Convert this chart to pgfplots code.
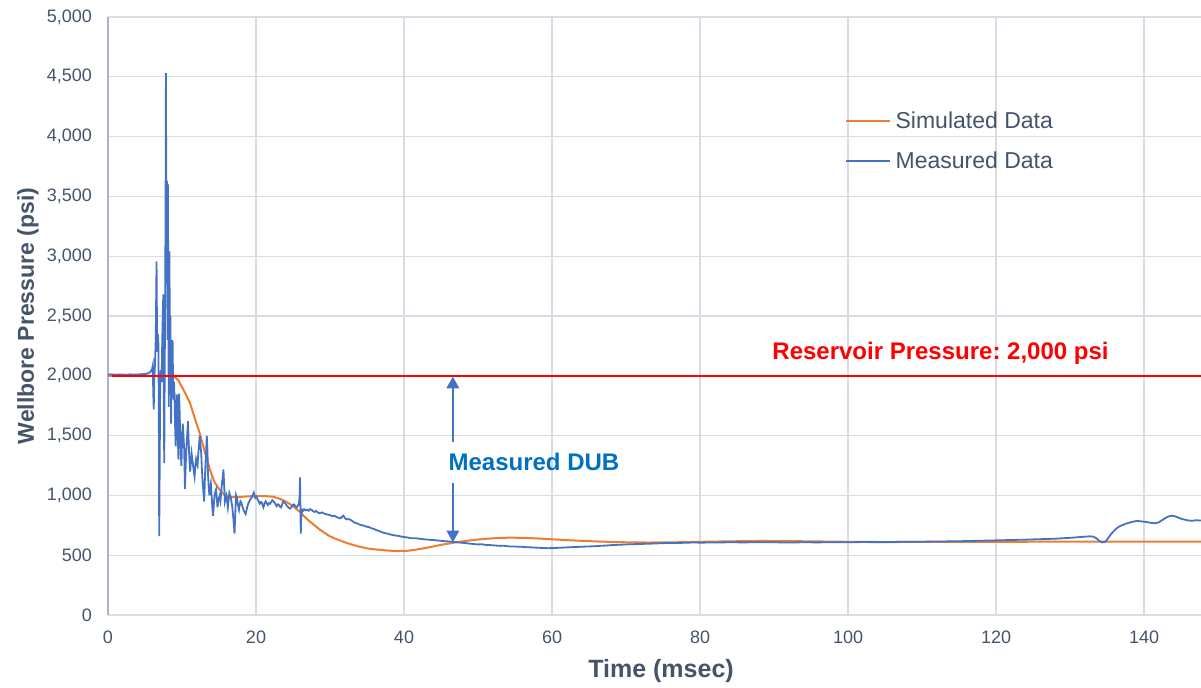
\documentclass[border=0pt]{standalone}
\usepackage{pgfplots}
\pgfplotsset{compat=1.18}
\usepackage{fontspec}
\setmainfont{Liberation Sans}
\usetikzlibrary{arrows.meta}
\definecolor{tickc}{RGB}{68,84,106}
\definecolor{gridc}{RGB}{217,222,230}
\definecolor{yaxc}{RGB}{170,180,200}
\definecolor{simc}{RGB}{237,125,49}
\definecolor{meac}{RGB}{68,114,196}
\definecolor{dubc}{RGB}{0,112,192}
\begin{document}
\frenchspacing
\begin{tikzpicture}
\begin{axis}[
  name=ax,
  scale only axis,
  width=1093bp, height=598bp,
  xmin=0, xmax=147.7, ymin=0, ymax=5000,
  xtick={0,20,...,140},
  ytick={0,500,...,5000},
  axis lines*=left,
  x axis line style={draw=gridc, line width=1.3bp},
  y axis line style={draw=yaxc, line width=1.5bp},
  major tick length=0pt,
  grid=major,
  major grid style={draw=gridc, line width=1.3bp},
  tick label style={font=\fontsize{18bp}{20bp}\selectfont, text=tickc, inner sep=0pt},
  xticklabel shift=16bp,
  yticklabel shift=16bp,
  /pgf/number format/assume math mode=true,
  yticklabel style={/pgf/number format/.cd, 1000 sep={,}},
  xlabel={Time (msec)},
  ylabel={Wellbore Pressure (psi)},
  xlabel style={font=\bfseries\fontsize{25bp}{27bp}\selectfont, text=tickc, at={(axis description cs:0.506,-0.0936)}, anchor=center},
  ylabel style={font=\bfseries\fontsize{23bp}{25bp}\selectfont, text=tickc, at={(axis description cs:-0.0732,0.5)}, anchor=center},
  clip=true,
  legend style={draw=none, fill=none, at={(axis description cs:0.6715,0.7926)}, anchor=west,
    font=\fontsize{23bp}{25bp}\selectfont, text=tickc, row sep=22bp,
    /tikz/every even column/.append style={column sep=0bp},
    nodes={inner sep=0pt}},
  legend cell align=left,
  legend image code/.code={\draw[#1, line width=1.5bp] (0bp,0bp) -- (44bp,0bp);},
  /tikz/every odd column/.append style={column sep=5bp},
]
\addplot[simc, line width=2bp] coordinates {
(0,2000) (8.5,2000) (9.0,1990) (9.5,1965) (9.73,1937) (10.4,1860) (11.1,1770) (11.7,1650)
(12.4,1519) (13.1,1360) (13.8,1212) (14.4,1110) (15.1,1045) (15.8,1003) (16.5,986) (17.5,985)
(18.5,990) (19.5,994) (20.1,995) (21.2,994) (22.3,989) (23.2,972) (24.1,947) (25.0,910)
(25.9,864) (26.5,825) (27.2,785) (27.9,750) (28.6,715) (29.3,685) (30.0,658) (30.7,638)
(31.4,622) (32.2,603) (33.0,588) (34.0,571) (35.0,557) (36.0,549) (37.0,543) (38.0,538)
(39.0,535) (39.5,535) (40.5,537) (41.5,545) (42.5,556) (43.5,567) (44.5,580) (45.5,592)
(46.5,602) (47.5,612) (48.5,620) (49.5,628) (51,637) (52.5,643) (53.9,646) (55,646)
(56,645) (57,643) (58,640) (60,633) (62,626) (64,620) (66,615) (68,611) (70,608) (73,606)
(76,607) (80,612) (84,616) (88,619) (92,618) (96,615) (100,612) (105,610) (110,611)
(120,612) (130,613) (140,613) (147.7,613)
};
\addlegendentry{Simulated Data}
\addplot[meac, line width=1.8bp] table {
0.0 2010
0.5 2012
1.0 2009
1.5 2011
2.0 2010
2.5 2008
3.0 2012
3.5 2010
4.0 2011
4.5 2013
5.0 2015
5.4 2020
5.7 2030
5.95 2055
6.05 2085
6.12 1850
6.18 1720
6.26 1980
6.35 2100
6.45 2300
6.56 2956
6.62 2400
6.68 2200
6.75 2350
6.82 2250
6.88 1500
6.92 660
6.98 1200
7.05 1900
7.15 2050
7.25 1950
7.32 2250
7.40 2500
7.47 2680
7.53 1900
7.60 1270
7.66 2000
7.72 2600
7.78 3400
7.83 4530
7.88 3300
7.93 2900
7.97 3630
8.01 3100
8.05 2300
8.09 3600
8.13 3000
8.17 2450
8.21 1740
8.25 2300
8.29 3040
8.34 2600
8.38 2200
8.43 2500
8.48 2000
8.53 1600
8.6 2100
8.67 2300
8.73 2276
8.8 1900
8.86 1800
8.92 1950
9.0 1800
9.08 1550
9.15 1411
9.22 1650
9.3 1844
9.38 1600
9.45 1450
9.52 1300
9.6 1850
9.68 1700
9.76 1500
9.84 1350
9.92 1247
10.0 1450
10.1 1600
10.2 1500
10.3 1380
10.4 1053
10.5 1250
10.6 1400
10.7 1500
10.8 1620
10.9 1450
11.0 1300
11.1 1200
11.2 1280
11.3 1350
11.4 1300
11.5 1250
11.6 1200
11.7 1157
11.8 1240
11.9 1300
12.0 1270
12.1 1250
12.2 1350
12.3 1420
12.4 1500
12.5 1420
12.6 1350
12.7 1200
12.8 1100
12.9 1020
13.0 949
13.1 1150
13.2 1300
13.3 1420
13.35 1500
13.45 1350
13.5 1200
13.6 1080
13.7 1000
13.8 1060
13.9 1100
14.0 1000
14.1 900
14.2 829
14.3 920
14.4 1000
14.5 1030
14.6 1050
14.7 980
14.8 900
14.9 950
15.0 980
15.1 1000
15.2 960
15.3 1030
15.4 1100
15.5 1150
15.6 1217
15.7 1080
15.8 950
15.9 980
16.0 1000
16.1 950
16.2 900
16.3 960
16.4 1020
16.5 1000
16.6 980
16.7 940
16.8 900
16.95 800
17.1 680
17.2 850
17.3 1000
17.4 980
17.5 950
17.6 910
17.7 880
17.8 920
17.9 950
18.0 940
18.1 920
18.2 900
18.3 880
18.45 860
18.6 844
18.7 870
18.8 900
18.95 930
19.1 950
19.25 970
19.4 980
19.55 1000
19.7 1023
19.8 1000
19.9 980
20.05 990
20.2 970
20.35 950
20.5 930
20.65 945
20.8 940
20.9 915
21.0 900
21.15 930
21.3 950
21.45 935
21.6 920
21.75 935
21.9 930
22.05 945
22.2 960
22.35 950
22.5 940
22.65 925
22.8 910
22.95 925
23.1 920
23.25 905
23.4 900
23.55 930
23.7 950
23.85 940
24.0 930
24.15 915
24.3 905
24.45 895
24.6 890
24.75 900
24.9 910
25.05 925
25.2 920
25.35 905
25.5 900
25.65 915
25.8 930
25.9 1000
25.95 1150
26.0 900
26.05 680
26.1 800
26.2 880
26.35 870
26.5 885
26.7 875
26.9 880
27.1 872
27.3 885
27.5 880
27.7 868
27.9 862
28.1 870
28.3 858
28.6 850
28.9 858
29.2 848
29.5 842
29.8 838
30.0 835
30.3 826
30.6 830
30.9 818
31.2 812
31.4 808
31.6 820
31.8 830
32.0 812
32.2 800
32.5 802
32.8 795
33.1 782
33.4 770
33.7 765
34.1 753
34.4 750
34.7 743
35.0 738
35.3 734
35.6 725
35.9 720
36.2 712
36.5 705
36.8 698
37.2 688
37.5 684
37.8 680
38.1 674
38.5 668
38.9 664
39.2 662
39.6 656
40.0 652
40.4 649
40.8 644
41.2 641
41.6 642
42.0 638
42.4 636
42.8 632
43.2 631
43.6 628
44.0 627
44.5 623
45.0 620
45.5 617
46.0 615
46.5 612
47.0 610
47.5 606
48.0 603
48.5 600
49.0 596
49.5 593
50.0 590
50.5 592
51.0 586
51.5 585
52.0 583
52.5 580
53.0 578
53.5 579
54.0 575
54.5 572
55.0 573
55.5 570
56.0 570
56.5 567
57.0 566
57.5 564
58.0 563
58.5 561
59.0 560
59.5 558
60.0 560
61 562
62 565
63 568
64 571
65 573
66 576
67 580
68 584
69 587
70 590
71 592
72 594
73 596
74 598
75 601
76 603
77 602
78 604
79 606
80 605
82 606
84 608
86 607
88 609
90 608
92 606
94 608
96 607
98 609
100 608
102 610
104 609
106 611
108 612
110 613
112 614
114 616
116 618
118 621
120 624
122 627
124 630
126 634
128 638
130 645
131 650
132 655
132.7 658
133.2 654
133.6 640
134.0 618
134.3 607
134.7 610
135.0 630
135.4 665
135.8 695
136.2 720
136.6 738
137.0 750
137.5 762
138.0 772
138.5 780
139.0 786
139.5 784
140.0 780
140.5 775
141.0 770
141.5 767
142.0 775
142.5 795
143.0 815
143.4 826
143.8 830
144.2 825
144.6 815
145.0 805
145.5 797
146.0 790
146.5 788
147.0 792
147.7 790
};
\addlegendentry{Measured Data}
\addplot[red, line width=2.2bp, forget plot] coordinates {(0.5,2000) (147.7,2000)};
\draw[meac, line width=1.4bp, -{Triangle[width=12.7bp,length=11.7bp]}] (axis cs:46.6,1449) -- (axis cs:46.6,1993);
\draw[meac, line width=1.4bp, -{Triangle[width=12.7bp,length=11.7bp]}] (axis cs:46.6,1106) -- (axis cs:46.6,608);
\node[anchor=base west, inner sep=0pt, text=dubc, font=\bfseries\fontsize{24bp}{26bp}\selectfont] at (axis cs:46.0,1212) {Measured DUB};
\node[anchor=base, inner sep=0pt, text=red, font=\bfseries\fontsize{24bp}{26bp}\selectfont] at (axis cs:112.5,2138) {Reservoir Pressure: 2,000 psi};
\end{axis}
\pgfresetboundingbox
\path ([shift={(-108bp,-73bp)}]ax.south west) rectangle ([shift={(0bp,17bp)}]ax.north east);
\end{tikzpicture}
\end{document}
